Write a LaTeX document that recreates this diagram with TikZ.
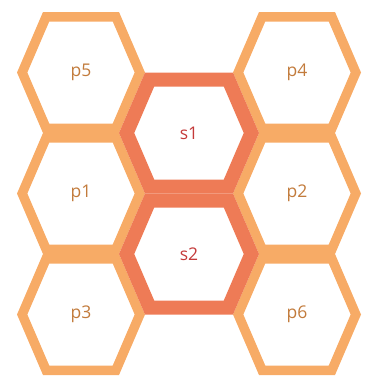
\documentclass[tikz,border=0pt]{standalone}
\usepackage{fontspec}
\setmainfont{Open Sans}

\definecolor{pline}{HTML}{F7AB66}
\definecolor{sline}{HTML}{EE7B56}
\definecolor{ptext}{HTML}{C27B3C}
\definecolor{stext}{HTML}{C43A3A}

\newcommand{\phex}{++(-64,0) -- ++(26,-60.5) -- ++(76,0) -- ++(26,60.5) -- ++(-26,60.5) -- ++(-76,0) -- cycle}
\newcommand{\shex}{++(-70,0) -- ++(26,-60.5) -- ++(88,0) -- ++(26,60.5) -- ++(-26,60.5) -- ++(-88,0) -- cycle}

\tikzset{
  pcell/.style={draw=pline, line width=19pt, line join=round},
  scell/.style={draw=sline, line width=28pt, line join=round},
  plabel/.style={text=ptext, font=\fontsize{17.5}{17.5}\selectfont},
  slabel/.style={text=stext, font=\fontsize{17.5}{17.5}\selectfont}
}

\begin{document}
\begin{tikzpicture}[x=1pt, y=-1pt]
\useasboundingbox (0,0) rectangle (366,383);

\begin{scope}
\clip (81,72.5) \phex;
\draw[pcell] (81,72.5) \phex;
\end{scope}
\node[plabel] (p5) at (81,72.5) {p5};

\begin{scope}
\clip (297,72.5) \phex;
\draw[pcell] (297,72.5) \phex;
\end{scope}
\node[plabel] (p4) at (297,72.5) {p4};

\begin{scope}
\clip (81,193.5) \phex;
\draw[pcell] (81,193.5) \phex;
\end{scope}
\node[plabel] (p1) at (81,193.5) {p1};

\begin{scope}
\clip (297,193.5) \phex;
\draw[pcell] (297,193.5) \phex;
\end{scope}
\node[plabel] (p2) at (297,193.5) {p2};

\begin{scope}
\clip (81,314.5) \phex;
\draw[pcell] (81,314.5) \phex;
\end{scope}
\node[plabel] (p3) at (81,314.5) {p3};

\begin{scope}
\clip (297,314.5) \phex;
\draw[pcell] (297,314.5) \phex;
\end{scope}
\node[plabel] (p6) at (297,314.5) {p6};

\begin{scope}
\clip (189,133) \shex;
\draw[scell] (189,133) \shex;
\end{scope}
\node[slabel] (s1) at (189,133) {s1};

\begin{scope}
\clip (189,254) \shex;
\draw[scell] (189,254) \shex;
\end{scope}
\node[slabel] (s2) at (189,254) {s2};
\end{tikzpicture}
\end{document}
